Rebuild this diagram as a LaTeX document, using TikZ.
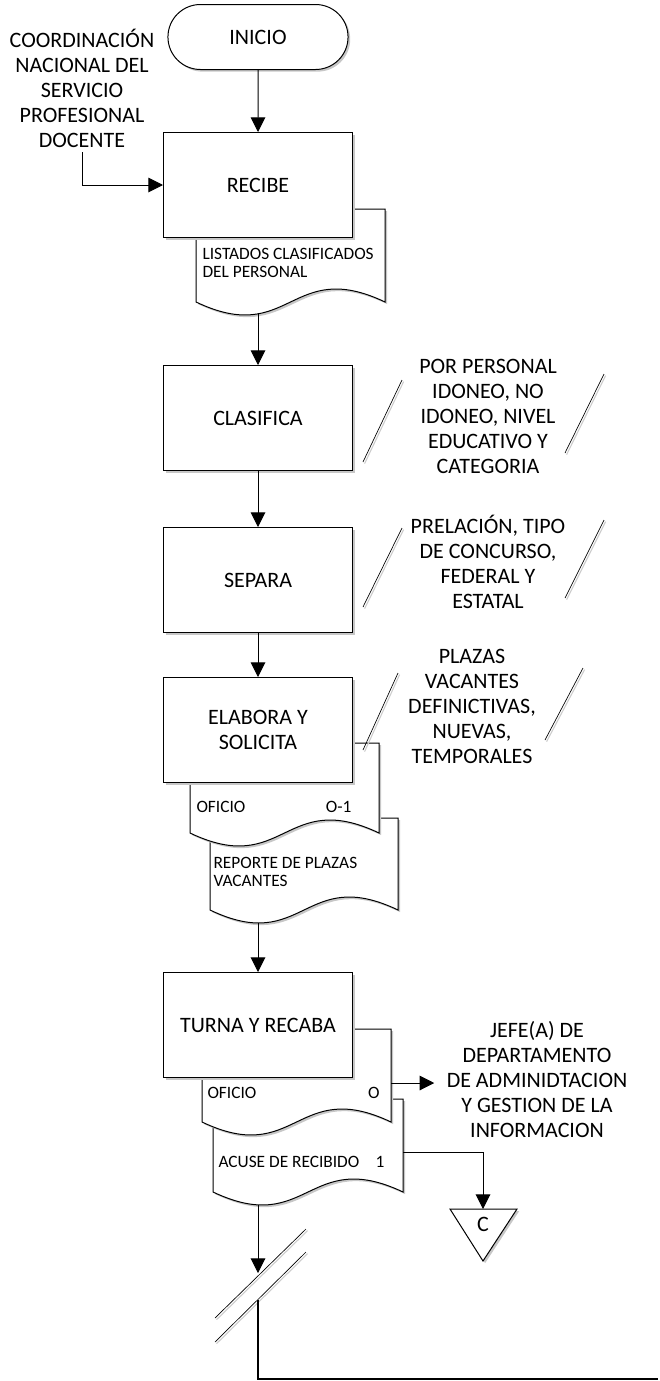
\documentclass[tikz,border=0pt]{standalone}
\usepackage{fontspec}
\setmainfont{Carlito}
\usetikzlibrary{arrows.meta,shapes.misc,shadows}

\tikzset{
  sombra/.style={drop shadow={shadow xshift=1.6pt,shadow yshift=-1.6pt,fill=black!22,opacity=1}},
  proceso/.style={draw,fill=white,sombra,minimum width=141.75pt,minimum height=78.75pt,
    align=center,font=\fontsize{16.5}{18.75}\selectfont},
  terminal/.style={rounded rectangle,draw,fill=white,sombra,minimum width=141.75pt,
    minimum height=48.75pt,font=\fontsize{16.5}{18.75}\selectfont},
  hoja/.style={draw,fill=white,sombra},
  hojatxt/.style={inner sep=0pt,align=left,font=\fontsize{13}{13.5}\selectfont},
  nota/.style={align=center,font=\fontsize{16.5}{18.75}\selectfont},
  barra/.style={line width=0.5pt,preaction={draw=black!20,line width=0.8pt,
    transform canvas={xshift=1.2pt,yshift=-1.2pt}}}
}

% documento: x izq, y sup, x der, y inf
\newcommand{\hoja}[4]{%
  \filldraw[hoja] (#1,#2) -- (#3,#2) -- (#3,#4)
    .. controls ({(#1+#3)/2},{#4-45}) and ({(#1+#3)/2},{#4+45}) .. (#1,#4) -- cycle;
}

\begin{document}
\begin{tikzpicture}[x=0.75pt,y=-0.75pt,>={Triangle[length=11pt,width=11pt]},line width=0.75pt]
  \useasboundingbox (0,0) rectangle (660,1381);

  % inicio y recibe
  \node[terminal] (inicio) at (258,37) {INICIO};
  \hoja{196}{209}{385}{302}
  \node[proceso] (recibe) at (258,185) {RECIBE};
  \node[hojatxt,anchor=west] (listados) at (202,263) {LISTADOS CLASIFICADOS\\DEL PERSONAL};
  \node[nota] (cnspd) at (82,88) {COORDINACIÓN\\NACIONAL DEL\\SERVICIO\\PROFESIONAL\\DOCENTE};
  \coordinate (listadosB) at (258,313);
  \draw[->] (inicio) -- (recibe);
  \draw[->] (cnspd) |- (recibe);

  % clasifica
  \node[proceso] (clasifica) at (258,418) {CLASIFICA};
  \draw[->] (listadosB) -- (clasifica);
  \node[nota] (porpersonal) at (488,416) {POR PERSONAL\\IDONEO, NO\\IDONEO, NIVEL\\EDUCATIVO Y\\CATEGORIA};
  \draw[barra] (363,462) -- (402,380);
  \draw[barra] (565,453) -- (604,374);

  % separa
  \node[proceso] (separa) at (258,580) {SEPARA};
  \draw[->] (clasifica) -- (separa);
  \node[nota] (prelacion) at (488,562) {PRELACIÓN, TIPO\\DE CONCURSO,\\FEDERAL Y\\ESTATAL};
  \draw[barra] (363,607) -- (402,528);
  \draw[barra] (565,598) -- (604,520);

  % elabora y solicita
  \hoja{210}{818}{398}{910}
  \hoja{190}{743}{379}{833}
  \node[proceso] (elabora) at (258,730) {ELABORA Y\\SOLICITA};
  \draw[->] (separa) -- (elabora);
  \node[hojatxt,anchor=west] (oficio1) at (196,807) {OFICIO};
  \node[hojatxt,anchor=east] (oficio1num) at (352,807) {O-1};
  \node[hojatxt,anchor=west] (reporte) at (213,872) {REPORTE DE PLAZAS\\VACANTES};
  \node[nota] (plazas) at (472,706) {PLAZAS\\VACANTES\\DEFINICTIVAS,\\NUEVAS,\\TEMPORALES};
  \draw[barra] (363,750) -- (398,673);
  \draw[barra] (545,740) -- (583,668);
  \coordinate (reporteB) at (258,923);

  % turna y recaba
  \hoja{213}{1099}{403}{1192}
  \hoja{202}{1029}{391}{1122}
  \node[proceso] (turna) at (258,1025) {TURNA Y RECABA};
  \draw[->] (reporteB) -- (turna);
  \node[hojatxt,anchor=west] (oficio2) at (207,1093) {OFICIO};
  \node[hojatxt,anchor=east] (oficio2num) at (380,1093) {O};
  \node[hojatxt,anchor=west] (acuse) at (218,1162) {ACUSE DE RECIBIDO};
  \node[hojatxt,anchor=east] (acusenum) at (385,1162) {1};
  \node[nota,inner sep=9pt] (jefe) at (537,1080) {JEFE(A) DE\\DEPARTAMENTO\\DE ADMINIDTACION\\Y GESTION DE LA\\INFORMACION};
  \coordinate (oficio2R) at (391,1083);
  \draw[->] (oficio2R) -- (oficio2R -| jefe.west);

  % conector C
  \draw[hoja] (450,1209) -- (517,1209) -- (483,1261) -- cycle;
  \node[nota] (conC) at (483,1224) {C};
  \coordinate (conCtop) at (483,1209);
  \coordinate (acuseR) at (403,1152);
  \draw[->] (acuseR) -| (conCtop);

  % corte
  \coordinate (acuseB) at (258,1205);
  \coordinate (corte1) at (258,1273);
  \draw[->] (acuseB) -- (corte1);
  \draw[barra] (215,1318) -- (306,1229);
  \draw[barra] (215,1342) -- (306,1252);
  \coordinate (corte2) at (258,1300);
  \coordinate (fin) at (658,1379);
  \draw[line width=1pt] (corte2) |- (fin);
\end{tikzpicture}
\end{document}
